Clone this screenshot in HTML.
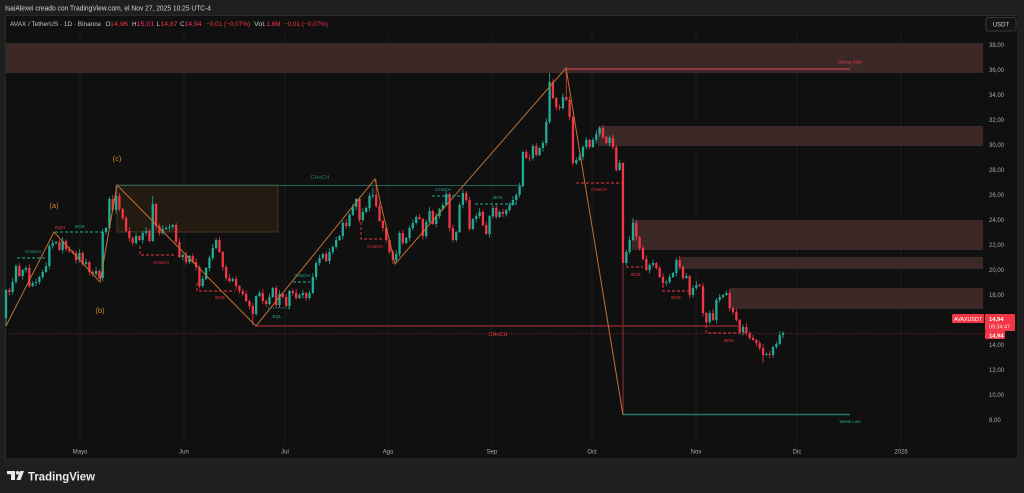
<!DOCTYPE html>
<html>
<head>
<meta charset="utf-8">
<style>
html,body{margin:0;padding:0;background:#1f1f1f;width:1024px;height:493px;overflow:hidden;}
svg{display:block;font-family:"Liberation Sans",sans-serif;}
.ax{font-size:6px;fill:#a9acb4;}
.sm{font-size:4.5px;}
</style>
</head>
<body>
<svg width="1024" height="493" viewBox="0 0 1024 493" xmlns="http://www.w3.org/2000/svg">
<rect x="0" y="0" width="1024" height="493" fill="#1f1f1f"/>
<text x="5" y="10.5" font-size="7" fill="#d1d4dc" textLength="206" lengthAdjust="spacingAndGlyphs">IsaiAlexei creado con TradingView.com, el Nov 27, 2025 10:25 UTC-4</text>

<!-- chart frame -->
<rect x="5.5" y="15.5" width="1012.5" height="443.5" fill="#101010" stroke="#2a2a2a" stroke-width="1"/>

<!-- header -->
<g font-size="6.3">
<text x="10" y="26" fill="#c4c7cf" textLength="91" lengthAdjust="spacingAndGlyphs">AVAX / TetherUS · 1D · Binance</text>
<text x="105.5" y="26" fill="#c4c7cf">O</text><text x="110" y="26" fill="#f23645" textLength="18" lengthAdjust="spacingAndGlyphs">14,96</text>
<text x="132" y="26" fill="#c4c7cf">H</text><text x="136.5" y="26" fill="#f23645" textLength="18" lengthAdjust="spacingAndGlyphs">15,01</text>
<text x="156.5" y="26" fill="#c4c7cf">L</text><text x="160.5" y="26" fill="#f23645" textLength="17" lengthAdjust="spacingAndGlyphs">14,87</text>
<text x="180" y="26" fill="#c4c7cf">C</text><text x="184.5" y="26" fill="#f23645" textLength="17" lengthAdjust="spacingAndGlyphs">14,94</text>
<text x="206" y="26" fill="#f23645" textLength="44" lengthAdjust="spacingAndGlyphs">−0,01 (−0,07%)</text>
<text x="254" y="26" fill="#c4c7cf" textLength="12" lengthAdjust="spacingAndGlyphs">Vol.</text>
<text x="266.5" y="26" fill="#f23645" textLength="14" lengthAdjust="spacingAndGlyphs">1,6M</text>
<text x="284" y="26" fill="#f23645" textLength="44" lengthAdjust="spacingAndGlyphs">−0,01 (−0,07%)</text>
</g>

<!-- vertical grid -->
<g stroke="#1b1b1b" stroke-width="1">
<line x1="80" y1="33" x2="80" y2="445"/>
<line x1="184" y1="33" x2="184" y2="445"/>
<line x1="285" y1="33" x2="285" y2="445"/>
<line x1="388" y1="33" x2="388" y2="445"/>
<line x1="492" y1="33" x2="492" y2="445"/>
<line x1="592" y1="33" x2="592" y2="445"/>
<line x1="696" y1="33" x2="696" y2="445"/>
<line x1="797" y1="33" x2="797" y2="445"/>
<line x1="901" y1="33" x2="901" y2="445"/>
</g>

<!-- supply zones -->
<g fill="#3d2828">
<rect x="6" y="43" width="977" height="30"/>
<rect x="598" y="126" width="385" height="20"/>
<rect x="632" y="220" width="351" height="30"/>
<rect x="680" y="257" width="303" height="12"/>
<rect x="730" y="288" width="253" height="21"/>
</g>

<!-- orange box -->
<rect x="117" y="185" width="161" height="47" fill="#231a12" stroke="#5c3c1e" stroke-width="0.8"/>

<!-- candles -->
<g id="cd"></g>

<!-- lines -->
<line x1="117" y1="185.5" x2="522" y2="185.5" stroke="#21665a" stroke-width="1"/>
<line x1="566" y1="69" x2="850" y2="69" stroke="#b33a44" stroke-width="1.6"/>
<line x1="256" y1="326" x2="738" y2="326" stroke="#c2323e" stroke-width="1"/>
<line x1="6" y1="333.5" x2="983" y2="333.5" stroke="#f23645" stroke-opacity="0.55" stroke-width="0.8" stroke-dasharray="1,1.5"/>
<line x1="623" y1="263" x2="623" y2="415" stroke="#7a2b33" stroke-width="1.2"/>
<line x1="623" y1="414.5" x2="850" y2="414.5" stroke="#1f7a68" stroke-width="1.4"/>

<!-- zigzag -->
<polyline points="6,326 54,232 100,282 117,185 256,326 375,179 395,264 566,68 623,415" fill="none" stroke="#c07030" stroke-width="1"/>

<!-- dashed structure lines -->
<g fill="none" stroke-width="0.9" stroke-dasharray="3,2">
<line x1="17" y1="258" x2="47" y2="258" stroke="#22ab94"/>
<line x1="55" y1="232" x2="105" y2="232" stroke="#22ab94"/>
<polyline points="140,246 140,255 175,255" stroke="#f23645"/>
<polyline points="197,283 197,291 235,291" stroke="#f23645"/>
<line x1="268" y1="308" x2="290" y2="308" stroke="#22ab94" stroke-dasharray="1,1.5"/>
<line x1="293" y1="282" x2="310" y2="282" stroke="#22ab94"/>
<polyline points="361,222 361,239 383,239" stroke="#f23645"/>
<line x1="432" y1="196" x2="460" y2="196" stroke="#22ab94"/>
<line x1="475" y1="204" x2="517" y2="204" stroke="#22ab94"/>
<line x1="576" y1="183" x2="622" y2="183" stroke="#f23645"/>
<line x1="626" y1="267" x2="643" y2="267" stroke="#f23645"/>
<polyline points="663,280 663,291 690,291" stroke="#f23645"/>
<polyline points="706,320 706,333 748,333" stroke="#f23645"/>
</g>

<!-- small labels -->
<g class="sm" text-anchor="middle">
<text x="33" y="253" fill="#22ab94">CHoCH</text>
<text x="60" y="229" fill="#f23645">EQH</text>
<text x="80" y="228" fill="#22ab94">BOS</text>
<text x="161" y="264" fill="#f23645">CHoCH</text>
<text x="220" y="299" fill="#f23645">BOS</text>
<text x="277" y="318" fill="#22ab94">EQL</text>
<text x="302" y="277" fill="#22ab94">CHoCH</text>
<text x="375" y="248" fill="#f23645">CHoCH</text>
<text x="443" y="191" fill="#22ab94">CHoCH</text>
<text x="498" y="199" fill="#22ab94">BOS</text>
<text x="599" y="191" fill="#f23645">CHoCH</text>
<text x="636" y="276" fill="#f23645">BOS</text>
<text x="676" y="299" fill="#f23645">BOS</text>
<text x="729" y="342" fill="#f23645">BOS</text>
<text x="850" y="63.5" fill="#f23645">Strong High</text>
<text x="850" y="423" fill="#22ab94">Weak Low</text>
</g>
<text x="320" y="179" font-size="5.5" fill="#1e7a6a" text-anchor="middle">CHoCH</text>
<text x="498" y="336" font-size="5.5" fill="#f23645" text-anchor="middle">CHoCH</text>

<!-- wave labels -->
<g font-size="7.5" fill="#d08a2e" text-anchor="middle">
<text x="54" y="208">(a)</text>
<text x="100" y="313">(b)</text>
<text x="117" y="161">(c)</text>
</g>

<!-- price axis -->
<rect x="986" y="17.5" width="30" height="13.5" rx="2" fill="#141414" stroke="#444" stroke-width="0.8"/>
<text x="1001" y="26.5" font-size="6" fill="#d1d4dc" text-anchor="middle">USDT</text>
<g class="ax">
<text x="989" y="47">38,00</text>
<text x="989" y="72">36,00</text>
<text x="989" y="97">34,00</text>
<text x="989" y="122">32,00</text>
<text x="989" y="147">30,00</text>
<text x="989" y="172">28,00</text>
<text x="989" y="197">26,00</text>
<text x="989" y="222">24,00</text>
<text x="989" y="247">22,00</text>
<text x="989" y="272">20,00</text>
<text x="989" y="297">18,00</text>
<text x="989" y="347">14,00</text>
<text x="989" y="372">12,00</text>
<text x="989" y="397">10,00</text>
<text x="989" y="422">8,00</text>
</g>

<!-- price labels -->
<rect x="952" y="314" width="32" height="9" rx="1" fill="#f23645"/>
<text x="968" y="320.8" font-size="5.2" fill="#fff" text-anchor="middle" textLength="28" lengthAdjust="spacingAndGlyphs">AVAXUSDT</text>
<rect x="985" y="314" width="30" height="17" rx="1" fill="#f23645"/>
<text x="989" y="321" font-size="5.8" font-weight="bold" fill="#fff">14,94</text>
<text x="989" y="328.5" font-size="5.4" fill="#ffe3e5">09:34:47</text>
<rect x="985" y="331" width="20" height="8" rx="1" fill="#f23645"/>
<text x="989" y="337.5" font-size="5.8" font-weight="bold" fill="#fff">14,94</text>

<!-- time axis -->
<g class="ax" text-anchor="middle">
<text x="80" y="453.5">Mayo</text>
<text x="184" y="453.5">Jun</text>
<text x="285" y="453.5">Jul</text>
<text x="388" y="453.5">Ago</text>
<text x="492" y="453.5">Sep</text>
<text x="592" y="453.5">Oct</text>
<text x="696" y="453.5">Nov</text>
<text x="797" y="453.5">Dic</text>
<text x="901" y="453.5">2026</text>
</g>

<!-- logo -->
<g fill="#e8e8e8">
<rect x="7" y="471" width="8" height="3.2"/>
<rect x="11" y="471" width="4" height="9"/>
<circle cx="17.6" cy="472.8" r="1.8"/>
<polygon points="20,471 24,471 20.5,480 16.5,480"/>
</g>
<text x="28" y="480.5" font-size="12" font-weight="bold" fill="#e8e8e8" textLength="67" lengthAdjust="spacingAndGlyphs">TradingView</text>
</svg>

<script>
(function(){
var C=[290,292,282,266,276,270,268,286,283,282,
277,272,266,246,243,242,250,241,249,251,
253,260,253,264,262,272,274,271,278,232,
228,199,210,196,209,218,231,238,243,236,
240,233,231,241,204,226,233,229,228,227,
225,242,257,255,262,256,262,267,286,279,
268,258,248,240,252,267,278,281,279,286,
291,294,301,306,314,296,293,301,304,297,
288,305,294,297,306,291,293,298,295,293,
298,293,277,263,258,254,261,252,247,240,
236,223,226,215,207,199,220,212,208,196,
195,206,221,228,240,252,260,254,233,243,
238,228,223,217,219,236,222,211,224,216,
209,205,194,228,240,232,205,193,200,229,
219,216,212,225,234,216,208,217,212,214,
210,205,200,195,186,152,158,158,146,155,
148,143,122,82,98,107,108,97,100,117,
163,160,157,147,140,147,140,134,128,137,
143,138,147,170,163,263,252,240,223,237,
248,259,270,265,263,268,277,283,282,277,
273,260,267,278,276,295,288,285,286,313,
322,313,320,300,297,295,293,308,312,320,
332,327,333,338,340,343,348,355,354,355,
347,344,335,333];
var ov={0:[null,326],33:[186,null],44:[196,null],74:[null,325],110:[188,null],111:[180,null],116:[null,264],163:[73,null],168:[68,null],188:[218,null],227:[null,363]};
var o=318,g='',prevUp=true;
for(var i=0;i<C.length;i++){
var c=C[i],x=(6+i*3.335).toFixed(2);
var up=c<o?true:(c>o?false:prevUp);prevUp=up;
var t=Math.min(o,c),b=Math.max(o,c);
var w1=1+((i*7)%5)*0.7,w2=1+((i*11)%4)*0.8;
var hi=t-w1,lo=b+w2;
if(ov[i]){if(ov[i][0]!=null)hi=ov[i][0];if(ov[i][1]!=null)lo=ov[i][1];}
var col=up?'#22ab94':'#f23645';
g+='<line x1="'+x+'" y1="'+hi+'" x2="'+x+'" y2="'+lo+'" stroke="'+col+'" stroke-width="0.8"/>';
g+='<rect x="'+(x-1.15).toFixed(2)+'" y="'+t+'" width="2.3" height="'+Math.max(b-t,0.8)+'" fill="'+col+'"/>';
o=c;}
document.getElementById('cd').innerHTML=g;
})();
</script>
</body>
</html>
